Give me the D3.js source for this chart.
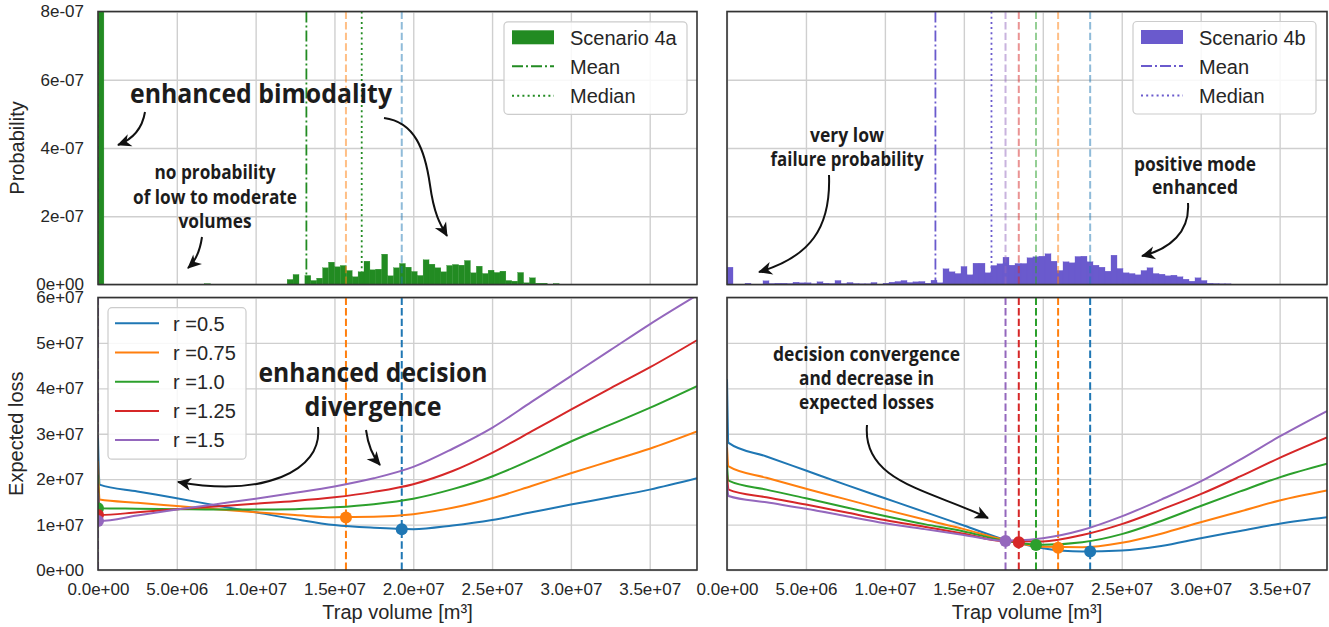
<!DOCTYPE html>
<html>
<head>
<meta charset="utf-8">
<script src="https://cdn.jsdelivr.net/npm/d3@7"></script>
<style>
  body { margin: 0; background: #fff; }
  svg { display: block; }
</style>
</head>
<body>
<svg id="fig" width="1329" height="627"></svg>
<script>
// ---------------- data ----------------
const volumeTicks = [0, 5e6, 1e7, 1.5e7, 2e7, 2.5e7, 3e7, 3.5e7];
const volumeMax = 3.8e7;
const probTicks = [0, 2e-7, 4e-7, 6e-7, 8e-7];
const lossTicks = [0, 1e7, 2e7, 3e7, 4e7, 5e7, 6e7];

const riskLabels = ["r =0.5", "r =0.75", "r =1.0", "r =1.25", "r =1.5"];
const riskColors = ["#1f77b4", "#ff7f0e", "#2ca02c", "#d62728", "#9467bd"];

// histogram of trap volume, probability per bin (units of 1e-8)
const binWidthA = 3.75e5;
const probA = [
  250, 0, 0, 0, 0, 0, 0, 0, 0, 0, 0, 0, 0, 0, 0, 0, 0, 0, 0.25, 0,
  0, 0, 0, 0, 0, 0, 0, 0, 0, 0, 0, 0,
  1.47, 2.93, 0, 2.64, 1.17, 1.86, 4.89, 6.55, 5.18, 5.57, 4.10, 2.25, 3.71, 6.84,
  4.30, 4.49, 8.89, 2.54, 4.89, 6.16, 5.08, 3.81, 2.64, 7.23, 5.96, 4.89, 3.71, 5.57,
  5.86, 5.67, 7.03, 3.42, 5.37, 3.22, 4.20, 3.52, 3.91, 1.17, 0.98, 3.52, 0.49, 1.95,
  0.39, 0.39, 0, 0.29
];
const binWidthB = 3.8e5;
const probB = [
  5.08, 0, 0, 0.39, 0, 0, 1.07, 0.29, 0.39, 0.39, 0.29, 0.68, 0.49, 0.49, 0.20, 0.78,
  0.39, 0.29, 1.17, 0.29, 0.59, 0.29, 0.20, 0.20, 0.59, 0.10, 0.39, 0.68, 0.88, 1.17,
  0.59, 0.78, 0.88, 0.39, 1.27, 0.49,
  4.59, 3.71, 3.22, 5.28, 2.83, 6.25, 6.25, 3.42, 5.57, 6.06, 8.01, 5.67, 6.16, 6.16,
  7.82, 8.11, 8.30, 8.99, 6.84, 4.10, 6.64, 6.35, 8.21, 8.30, 6.64, 5.67, 5.08, 3.91,
  8.60, 4.69, 3.42, 3.22, 2.83, 4.10, 4.89, 3.22, 3.03, 2.54, 2.74, 2.25, 1.56, 0.98,
  1.95, 1.17, 0.39, 0.29, 0.20, 0.20, 0, 0, 0, 0.10
];
const meanA = 1.322e7, medianA = 1.673e7;
const meanB = 1.320e7, medianB = 1.675e7;

// expected loss curves (units of 1e7) over trap volume
const volumes = [0, 1e5, 2.5e6, 5e6, 7.5e6, 1e7, 1.25e7, 1.5e7, 1.75e7, 2e7,
                 2.25e7, 2.5e7, 2.75e7, 3e7, 3.25e7, 3.5e7, 3.8e7];
const lossA = [
  [2.9, 1.88, 1.73, 1.58, 1.42, 1.27, 1.12, 0.99, 0.93, 0.90, 0.98, 1.10, 1.27, 1.44, 1.60, 1.77, 2.02],
  [2.4, 1.55, 1.48, 1.41, 1.34, 1.27, 1.21, 1.16, 1.17, 1.23, 1.37, 1.58, 1.85, 2.13, 2.40, 2.67, 3.05],
  [2.1, 1.36, 1.35, 1.34, 1.33, 1.33, 1.34, 1.38, 1.45, 1.57, 1.78, 2.06, 2.43, 2.83, 3.20, 3.57, 4.05],
  [1.9, 1.21, 1.27, 1.34, 1.40, 1.46, 1.52, 1.60, 1.72, 1.89, 2.18, 2.58, 3.05, 3.53, 4.00, 4.46, 5.06],
  [1.7, 1.08, 1.20, 1.33, 1.45, 1.57, 1.70, 1.84, 2.02, 2.27, 2.67, 3.13, 3.70, 4.27, 4.84, 5.41, 6.05]
];
const lossB = [
  [4.2, 2.80, 2.50, 2.19, 1.88, 1.58, 1.28, 0.98, 0.68, 0.48, 0.41, 0.43, 0.53, 0.70, 0.86, 1.02, 1.16],
  [2.7, 2.28, 2.03, 1.79, 1.56, 1.33, 1.11, 0.90, 0.67, 0.51, 0.50, 0.60, 0.80, 1.05, 1.29, 1.53, 1.75],
  [2.3, 1.97, 1.77, 1.58, 1.38, 1.19, 1.01, 0.85, 0.65, 0.555, 0.61, 0.79, 1.08, 1.41, 1.73, 2.04, 2.34],
  [2.1, 1.77, 1.60, 1.44, 1.27, 1.10, 0.95, 0.80, 0.635, 0.63, 0.77, 1.01, 1.33, 1.67, 2.06, 2.47, 2.92],
  [1.9, 1.63, 1.49, 1.35, 1.19, 1.03, 0.90, 0.77, 0.645, 0.70, 0.88, 1.18, 1.55, 1.95, 2.43, 2.94, 3.50]
];
// optimal decisions (minimum expected loss) per risk attitude
const optVolA = [1.927e7, 1.573e7, 0, 0, 0];
const optLossA = [0.898, 1.156, 1.36, 1.21, 1.08];
const optVolB = [2.300e7, 2.097e7, 1.957e7, 1.848e7, 1.764e7];
const optLossB = [0.405, 0.49, 0.55, 0.61, 0.64];

// ---------------- drawing ----------------
const svg = d3.select("#fig");
const defs = svg.append("defs");
const tickFont = "'Liberation Sans', Arial, sans-serif";
const noteFont = "'Open Sans', 'Liberation Sans', sans-serif";

function sci(v, digits) {
  const [m, e] = v.toExponential(digits).split("e");
  const sign = e[0] === "-" ? "-" : "+";
  return m + "e" + sign + String(Math.abs(+e)).padStart(2, "0");
}

const colsX = [[98, 697], [727, 1327]];
const rowsY = [[11.5, 284.5], [297.5, 570]];

let clipCount = 0;
function makePanel(col, row, yDomain, yTickVals, showX, showY, yFmt) {
  const xr = colsX[col], yr = rowsY[row];
  const x = d3.scaleLinear().domain([0, volumeMax]).range(xr);
  const y = d3.scaleLinear().domain(yDomain).range([yr[1], yr[0]]);
  const id = "clip" + (clipCount++);
  defs.append("clipPath").attr("id", id).append("rect")
    .attr("x", xr[0]).attr("y", yr[0]).attr("width", xr[1] - xr[0]).attr("height", yr[1] - yr[0]);
  const g = svg.append("g");
  // grid
  const grid = g.append("g");
  grid.append("g").attr("transform", `translate(0,${yr[1]})`)
    .call(d3.axisBottom(x).tickValues(volumeTicks).tickSize(-(yr[1] - yr[0])).tickFormat(""));
  grid.append("g").attr("transform", `translate(${xr[0]},0)`)
    .call(d3.axisLeft(y).tickValues(yTickVals).tickSize(-(xr[1] - xr[0])).tickFormat(""));
  grid.selectAll(".domain").remove();
  grid.selectAll("line").attr("stroke", "#cfcfcf").attr("stroke-width", 1.4);
  const plot = g.append("g").attr("clip-path", `url(#${id})`);
  const over = g.append("g");
  // tick labels
  if (showX) {
    const ax = over.append("g").attr("transform", `translate(0,${yr[1]})`)
      .call(d3.axisBottom(x).tickValues(volumeTicks).tickSize(0).tickPadding(13).tickFormat(d => sci(d, 1)));
    ax.select(".domain").remove();
    ax.selectAll("text").attr("font-family", tickFont).attr("font-size", 17).attr("fill", "#262626");
  }
  if (showY) {
    const ay = over.append("g").attr("transform", `translate(${xr[0]},0)`)
      .call(d3.axisLeft(y).tickValues(yTickVals).tickSize(0).tickPadding(14).tickFormat(yFmt));
    ay.select(".domain").remove();
    ay.selectAll("text").attr("font-family", tickFont).attr("font-size", 17).attr("fill", "#262626");
  }
  return { x, y, xr, yr, plot, over };
}
function frame(p) {
  p.over.append("rect").attr("x", p.xr[0]).attr("y", p.yr[0])
    .attr("width", p.xr[1] - p.xr[0]).attr("height", p.yr[1] - p.yr[0])
    .attr("fill", "none").attr("stroke", "#333").attr("stroke-width", 1.6);
}

const DASH = "7.4,3.2", DASHDOT = "11,3,2,3", DOT = "2,3.2";

function vline(p, xv, color, dash, width, opacity) {
  p.plot.append("line").attr("x1", p.x(xv)).attr("x2", p.x(xv))
    .attr("y1", p.yr[0]).attr("y2", p.yr[1])
    .attr("stroke", color).attr("stroke-width", width).attr("stroke-dasharray", dash)
    .attr("stroke-opacity", opacity);
}

function histogram(p, probs, bw, color) {
  p.plot.append("g").selectAll("rect").data(probs.map((v, k) => ({ k, v })).filter(d => d.v > 0))
    .join("rect")
    .attr("x", d => p.x(d.k * bw)).attr("width", d => p.x((d.k + 1) * bw) - p.x(d.k * bw))
    .attr("y", d => p.y(d.v * 1e-8)).attr("height", d => p.y(0) - p.y(d.v * 1e-8))
    .attr("fill", color).attr("stroke", color).attr("stroke-width", 0.3);
}

function lossCurves(p, losses, optV, optL) {
  const line = d3.line().x((d, i) => p.x(volumes[i])).y(d => p.y(d * 1e7)).curve(d3.curveMonotoneX);
  optV.forEach((v, i) => vline(p, v, riskColors[i], DASH, 2, 1));
  losses.forEach((s, i) => {
    p.plot.append("path").attr("d", line(s)).attr("fill", "none")
      .attr("stroke", riskColors[i]).attr("stroke-width", 2);
  });
  optV.forEach((v, i) => {
    p.plot.append("circle").attr("cx", p.x(v)).attr("cy", p.y(optL[i] * 1e7)).attr("r", 6)
      .attr("fill", riskColors[i]);
  });
}

function legendBox(g, x, y, w, h) {
  g.append("rect").attr("x", x).attr("y", y).attr("width", w).attr("height", h).attr("rx", 4)
    .attr("fill", "#fff").attr("fill-opacity", 0.85).attr("stroke", "#cccccc").attr("stroke-width", 1.2);
}
function legendText(g, x, y, txt) {
  g.append("text").attr("x", x).attr("y", y).text(txt)
    .attr("font-family", tickFont).attr("font-size", 20).attr("fill", "#262626");
}

function histLegend(p, bx, by, label, color) {
  const g = p.over.append("g");
  legendBox(g, bx, by, 183, 92.5);
  const hx = bx + 8, tx = bx + 66;
  g.append("rect").attr("x", hx).attr("y", by + 8.5).attr("width", 42).attr("height", 14).attr("fill", color);
  legendText(g, tx, by + 23, label);
  g.append("line").attr("x1", hx).attr("x2", hx + 42).attr("y1", by + 44.5).attr("y2", by + 44.5)
    .attr("stroke", color).attr("stroke-width", 2).attr("stroke-dasharray", DASHDOT);
  legendText(g, tx, by + 52, "Mean");
  g.append("line").attr("x1", hx).attr("x2", hx + 42).attr("y1", by + 74).attr("y2", by + 74)
    .attr("stroke", color).attr("stroke-width", 2).attr("stroke-dasharray", DOT);
  legendText(g, tx, by + 81, "Median");
}

// arrow head marker
defs.append("marker").attr("id", "head").attr("viewBox", "-14 -8 16 16")
  .attr("markerWidth", 16).attr("markerHeight", 16).attr("refX", 0).attr("refY", 0)
  .attr("orient", "auto").attr("markerUnits", "userSpaceOnUse")
  .append("path").attr("d", "M1,0 L-13,-6.5 L-9,0 L-13,6.5 Z").attr("fill", "#111");

function arrow(d) {
  svg.append("path").attr("d", d).attr("fill", "none").attr("stroke", "#111")
    .attr("stroke-width", 2).attr("marker-end", "url(#head)");
}
function note(cx, lines, size) {
  lines.forEach(([txt, base, w]) => {
    svg.append("text").attr("x", cx - w / 2).attr("y", base).text(txt)
      .attr("font-family", noteFont).attr("font-weight", 700).attr("font-size", size)
      .attr("fill", "#1c1c1c").attr("textLength", w).attr("lengthAdjust", "spacingAndGlyphs");
  });
}

// panels
const pA = makePanel(0, 0, [0, 8e-7], probTicks, false, true, d => sci(d, 0));
const pB = makePanel(1, 0, [0, 8e-7], probTicks, false, false);
const qA = makePanel(0, 1, [0, 6e7], lossTicks, true, true, d => sci(d, 0));
const qB = makePanel(1, 1, [0, 6e7], lossTicks, true, false);

// top: histograms with summary lines
histogram(pA, probA, binWidthA, "#228b22");
vline(pA, meanA, "#228b22", DASHDOT, 1.8, 1);
vline(pA, medianA, "#228b22", DOT, 1.8, 1);
[4, 3, 2, 1, 0].forEach(i => vline(pA, optVolA[i], riskColors[i], DASH, 2, 0.5));

histogram(pB, probB, binWidthB, "#6a5acd");
vline(pB, meanB, "#6a5acd", DASHDOT, 1.8, 1);
vline(pB, medianB, "#6a5acd", DOT, 1.8, 1);
[4, 3, 2, 1, 0].forEach(i => vline(pB, optVolB[i], riskColors[i], DASH, 2, 0.5));

// bottom: expected loss
lossCurves(qA, lossA, optVolA, optLossA);
lossCurves(qB, lossB, optVolB, optLossB);

[pA, pB, qA, qB].forEach(frame);

histLegend(pA, 504, 21.8, "Scenario 4a", "#228b22");
histLegend(pB, 1133, 21.5, "Scenario 4b", "#6a5acd");

// risk legend
{
  const g = qA.over.append("g");
  legendBox(g, 108, 307.7, 138, 151.5);
  riskLabels.forEach((lab, i) => {
    const cy = 323.3 + i * 29.2;
    g.append("line").attr("x1", 115).attr("x2", 159).attr("y1", cy).attr("y2", cy)
      .attr("stroke", riskColors[i]).attr("stroke-width", 2);
    legendText(g, 173, cy + 7.3, lab);
  });
}

// axis titles
function label(txt, x, y, rot) {
  svg.append("text").text(txt).attr("text-anchor", "middle")
    .attr("transform", `translate(${x},${y}) rotate(${rot})`)
    .attr("font-family", tickFont).attr("font-size", 20).attr("fill", "#262626");
}
label("Probability", 23.5, 148, -90);
label("Expected loss", 23, 433.7, -90);
label("Trap volume [m³]", 397.5, 619, 0);
label("Trap volume [m³]", 1027, 619, 0);

// annotations
note(261, [["enhanced bimodality", 103, 262]], 27);
note(215, [["no probability", 179, 121], ["of low to moderate", 203.5, 164], ["volumes", 228, 73]], 19);
note(847, [["very low", 142, 74], ["failure probability", 166, 153]], 19);
note(1195, [["positive mode", 170.5, 122], ["enhanced", 194, 86]], 19);
note(373, [["enhanced decision", 381.5, 229], ["divergence", 415.5, 137]], 27);
note(866.5, [["decision convergence", 361, 187], ["and decrease in", 385, 135], ["expected losses", 409, 135]], 19);

arrow("M145,112 Q141,136 118,145");
arrow("M384,118 C415,122 425,150 430,185 C434,214 440,224 447,236");
arrow("M202,237 Q199,258 188,268");
arrow("M829,175 C831,228 810,257 759,272");
arrow("M1188,203 C1190,232 1170,249 1142,256");
arrow("M318,427 C323,472 262,497 178,482");
arrow("M366,430 Q369,452 380,465");
arrow("M867,425 C862,482 930,490 988,518");
</script>
</body>
</html>
